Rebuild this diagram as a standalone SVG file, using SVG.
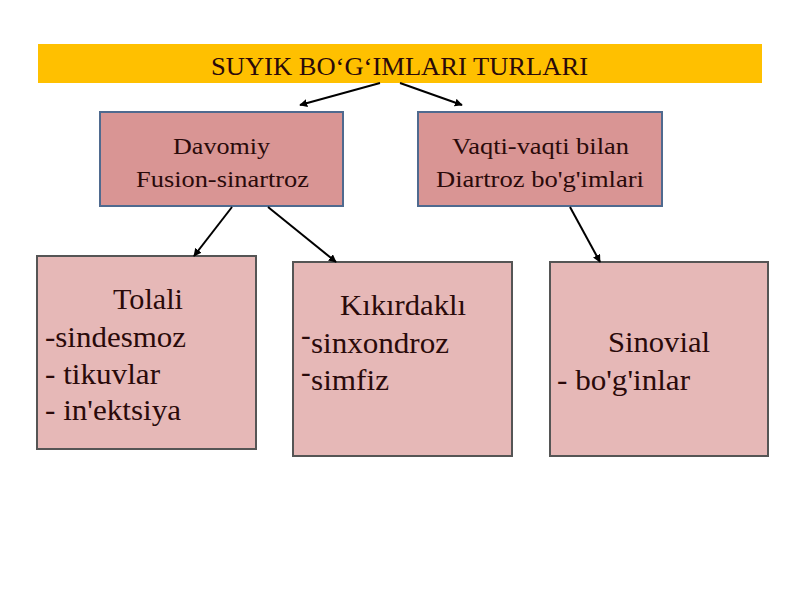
<svg xmlns="http://www.w3.org/2000/svg" width="800" height="600" viewBox="0 0 800 600">
<defs>
<marker id="ah" viewBox="0 0 10 10" refX="9" refY="5" markerWidth="8" markerHeight="8" orient="auto" markerUnits="userSpaceOnUse">
<path d="M0,0 L10,5 L0,10 z" fill="#000"/>
</marker>
<style>
text{font-family:"Liberation Serif","Times New Roman",serif;fill:#2a0a0a}
.mid{fill:#D99594;stroke:#4F6A8F;stroke-width:2}
.leaf{fill:#E6B8B7;stroke:#555;stroke-width:2}
.c{stroke:#000;stroke-width:2;fill:none;marker-end:url(#ah)}
.t2{font-size:24px}
.t3{font-size:29px}
</style>
</defs>
<rect width="800" height="600" fill="#fff"/>
<g id="title">
<rect x="38" y="44" width="724" height="39" fill="#FFC000"/>
<text x="211" y="75" font-size="25" textLength="377" lengthAdjust="spacingAndGlyphs">SUYIK BO‘G‘IMLARI TURLARI</text>
</g>
<g id="davomiy">
<rect class="mid" x="100" y="112" width="243" height="94"/>
<text class="t2" x="173" y="154" textLength="97" lengthAdjust="spacingAndGlyphs">Davomiy</text>
<text class="t2" x="136" y="187" textLength="173" lengthAdjust="spacingAndGlyphs">Fusion-sinartroz</text>
</g>
<g id="vaqti">
<rect class="mid" x="418" y="112" width="244" height="94"/>
<text class="t2" x="452" y="154" textLength="177" lengthAdjust="spacingAndGlyphs">Vaqti-vaqti bilan</text>
<text class="t2" x="436" y="187" textLength="208" lengthAdjust="spacingAndGlyphs">Diartroz bo'g'imlari</text>
</g>
<g id="tolali">
<rect class="leaf" x="37" y="256" width="219" height="193"/>
<text class="t3" x="113" y="309" textLength="70" lengthAdjust="spacingAndGlyphs">Tolali</text>
<text class="t3" x="45" y="347" textLength="141" lengthAdjust="spacingAndGlyphs">-sindesmoz</text>
<text class="t3" x="45" y="384" textLength="115" lengthAdjust="spacingAndGlyphs">- tikuvlar</text>
<text class="t3" x="45" y="420" textLength="136" lengthAdjust="spacingAndGlyphs">- in'ektsiya</text>
</g>
<g id="kikirdakli">
<rect class="leaf" x="293" y="262" width="219" height="194"/>
<text class="t3" x="340" y="315" textLength="126" lengthAdjust="spacingAndGlyphs">Kıkırdaklı</text>
<text class="t3" x="301" y="353"><tspan dy="-8">-</tspan><tspan x="311" dy="8" textLength="138" lengthAdjust="spacingAndGlyphs">sinxondroz</tspan></text>
<text class="t3" x="301" y="390"><tspan dy="-8">-</tspan><tspan x="311" dy="8" textLength="78" lengthAdjust="spacingAndGlyphs">simfiz</tspan></text>
</g>
<g id="sinovial">
<rect class="leaf" x="550" y="262" width="218" height="194"/>
<text class="t3" x="608" y="352" textLength="102" lengthAdjust="spacingAndGlyphs">Sinovial</text>
<text class="t3" x="557" y="390" textLength="133" lengthAdjust="spacingAndGlyphs">- bo'g'inlar</text>
</g>
<g id="connectors">
<line class="c" x1="380" y1="83" x2="300" y2="105"/>
<line class="c" x1="400" y1="83" x2="462" y2="105"/>
<line class="c" x1="232" y1="207" x2="194" y2="256"/>
<line class="c" x1="268" y1="207" x2="336" y2="262"/>
<line class="c" x1="570" y1="207" x2="600" y2="262"/>
</g>
</svg>
